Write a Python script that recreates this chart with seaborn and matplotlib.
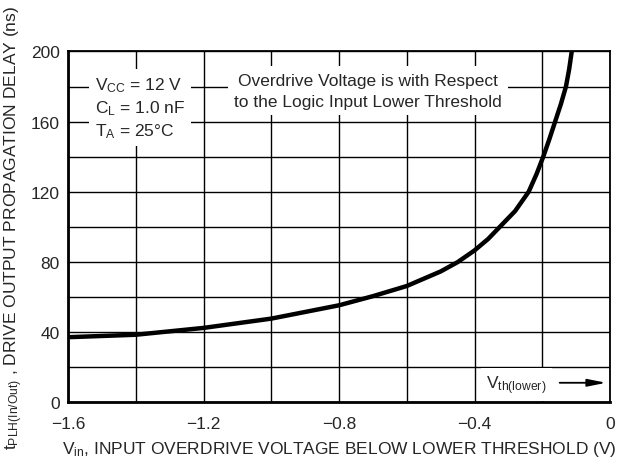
import matplotlib
matplotlib.use("Agg")
import matplotlib.pyplot as plt
import seaborn as sns
import pandas as pd

# values
vin = [-1.6, -1.4, -1.2, -1.0, -0.8, -0.7, -0.6, -0.5, -0.45, -0.4, -0.36,
       -0.325, -0.28, -0.24, -0.217, -0.197, -0.179, -0.162, -0.145,
       -0.13, -0.1205, -0.113]
tplh = [37, 38.4, 42.3, 47.6, 55.2, 60.4, 66.2, 74.5, 79.8, 86.5, 93,
        100, 109, 120, 130, 140, 150, 160, 170,
        180, 190, 200]
x_ticks = [-1.6, -1.2, -0.8, -0.4, 0]
x_labels = ["\u22121.6", "\u22121.2", "\u22120.8", "\u22120.4", "0"]
y_ticks = [0, 40, 80, 120, 160, 200]

df = pd.DataFrame({"vin": vin, "tplh": tplh})

sns.set_style("white")
plt.rcParams["font.family"] = ["Liberation Sans Narrow", "Liberation Sans", "DejaVu Sans"]
plt.rcParams["mathtext.default"] = "regular"

fig = plt.figure(figsize=(6.21, 4.77), dpi=100)
ax = fig.add_axes([0.1095, 0.155, 0.8728, 0.735])

sns.lineplot(data=df, x="vin", y="tplh", ax=ax, color="black", lw=3.2,
             sort=False, zorder=4)
ax.lines[0].set_solid_joinstyle("round")

ax.set_xlim(-1.6, 0)
ax.set_ylim(0, 200)
ax.set_xticks(x_ticks)
ax.set_xticklabels(x_labels, fontsize=12.5)
ax.set_xticks([v / 10 for v in range(-14, 0, 4)], minor=True)
ax.set_yticks(y_ticks)
ax.set_yticks(range(20, 200, 40), minor=True)
ax.set_yticklabels([str(v) for v in y_ticks], fontsize=12.5)
ax.grid(True, which="both", color="black", lw=1.0)
ax.tick_params(which="both", length=0)
ax.tick_params(axis="x", pad=10)
ax.tick_params(axis="y", pad=6)
ax.set_axisbelow(True)

for side in ["left", "bottom"]:
    ax.spines[side].set_linewidth(2.0)
for side in ["top", "right"]:
    ax.spines[side].set_linewidth(1.3)
for s in ax.spines.values():
    s.set_color("black")

ax.set_xlabel("V$_{in}$, INPUT OVERDRIVE VOLTAGE BELOW LOWER THRESHOLD (V)",
              fontsize=12.5, labelpad=6)
ax.set_ylabel("t$_{PLH(In/Out)}$ , DRIVE OUTPUT PROPAGATION DELAY (ns)",
              fontsize=12.5, labelpad=4)

box = dict(facecolor="white", edgecolor="none", boxstyle="square,pad=0.35")
ax.text(0.05, 0.932, "V$_{CC}$ = 12 V\nC$_{L}$ = 1.0 nF\nT$_{A}$ = 25\u00b0C",
        transform=ax.transAxes, ha="left", va="top", fontsize=12.5,
        linespacing=1.32, bbox=box, zorder=3)
ax.text(0.553, 0.94, "Overdrive Voltage is with Respect\nto the Logic Input Lower Threshold",
        transform=ax.transAxes, ha="center", va="top", fontsize=12.5,
        linespacing=1.5, bbox=box, zorder=3)
ax.text(0.772, 0.05, "V$_{th(lower)}$", transform=ax.transAxes, ha="left",
        va="center", fontsize=12.5,
        bbox=dict(facecolor="white", edgecolor="none", boxstyle="square,pad=0.3"),
        zorder=3)
ax.annotate("", xy=(0.998, 0.055), xytext=(0.902, 0.055), xycoords="axes fraction",
            arrowprops=dict(arrowstyle="-|>,head_length=1.1,head_width=0.22",
                            color="black", lw=1.3), zorder=5)

fig.savefig("out.png", dpi=100)
